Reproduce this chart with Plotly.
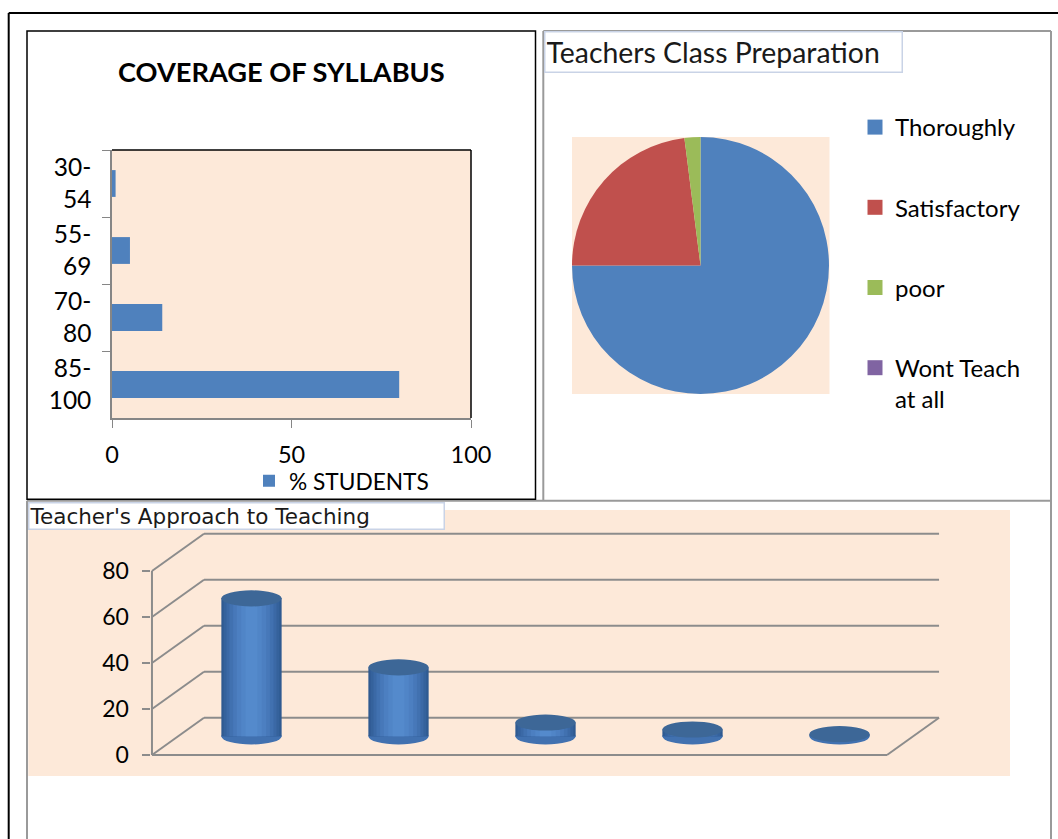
import plotly.graph_objects as go

# ---------------- data ----------------
syllabus_ranges = ["30-<br>54", "55-<br>69", "70-<br>80", "85-<br>100"]
pct_students = [1, 5, 14, 80]
syllabus_ticks = [0, 50, 100]

prep_labels = ["Thoroughly", "Satisfactory", "poor", "Wont Teach<br>at all"]
prep_values = [75, 23, 2, 0]
prep_colors = ["#4f81bd", "#c0504d", "#9bbb59", "#8064a2"]

approach_levels = ["1", "2", "3", "4", "5"]
approach_values = [60, 30, 6, 3, 1]
approach_ticks = [0, 20, 40, 60, 80]

# ---------------- helpers ----------------
W, H = 1058, 839
FONT = "Lato, 'Open Sans', sans-serif"
PEACH = "#fde9d9"
GRID = "#8c8c8c"


def X(px):
    return px / W


def Y(py):
    return 1 - py / H


fig = go.Figure()

# ---------------- chart 1: coverage of syllabus ----------------
fig.add_trace(go.Bar(
    x=pct_students, y=syllabus_ranges, orientation="h",
    marker=dict(color="#4f81bd", line=dict(width=0)),
    name="% STUDENTS", xaxis="x", yaxis="y", legend="legend",
))

# ---------------- chart 2: pie ----------------
fig.add_trace(go.Pie(
    labels=prep_labels, values=prep_values, sort=False,
    direction="clockwise", rotation=0,
    marker=dict(colors=prep_colors, line=dict(width=0)),
    textinfo="none", showlegend=False,
    domain=dict(x=[X(572), X(829)], y=[Y(394), Y(137)]),
))
for lab, col in zip(prep_labels, prep_colors):
    fig.add_trace(go.Scatter(
        x=[None], y=[None], mode="markers",
        marker=dict(symbol="square", size=15, color=col),
        name=lab, legend="legend2", legendgroup=lab,
        xaxis="x", yaxis="y", hoverinfo="skip",
    ))

# ---------------- chart 3: pseudo 3D cylinders ----------------
DX, DY = 0.354, 16.2   # depth offsets (category units, value units)
BW = 0.41
n = len(approach_levels)
xpos = [i + DX / 2 for i in range(n)]
base = DY / 2
for w, col in [(0.41, "#2f5a91"), (0.38, "#35629c"), (0.34, "#3b69a6"),
               (0.30, "#4171b0"), (0.25, "#4778b9"), (0.20, "#4c7fc1"),
               (0.14, "#5085c7"), (0.08, "#548acc")]:
    fig.add_trace(go.Bar(
        x=xpos, y=approach_values, base=[base] * n, width=w,
        marker=dict(color=col, line=dict(width=0)),
        customdata=approach_levels, hovertemplate="%{customdata}: %{y}<extra></extra>",
        xaxis="x2", yaxis="y2", showlegend=False,
    ))

shapes = []
# back wall gridlines + side diagonals
for v in approach_ticks:
    shapes.append(dict(type="line", xref="x2", yref="y2", layer="below",
                       x0=-0.5 + DX, x1=n - 0.5 + DX, y0=v + DY, y1=v + DY,
                       line=dict(color=GRID, width=2)))
    shapes.append(dict(type="line", xref="x2", yref="y2", layer="below",
                       x0=-0.5, x1=-0.5 + DX, y0=v, y1=v + DY,
                       line=dict(color=GRID, width=2)))
# floor
shapes.append(dict(type="line", xref="x2", yref="y2", layer="below",
                   x0=-0.5, x1=n - 0.5, y0=0, y1=0, line=dict(color=GRID, width=2)))
shapes.append(dict(type="line", xref="x2", yref="y2", layer="below",
                   x0=n - 0.5, x1=n - 0.5 + DX, y0=0, y1=DY, line=dict(color=GRID, width=2)))
# front value axis
shapes.append(dict(type="line", xref="x2", yref="y2", layer="below",
                   x0=-0.5, x1=-0.5, y0=0, y1=max(approach_ticks),
                   line=dict(color=GRID, width=2)))
EH = 3.5
for xc, v in zip(xpos, approach_values):
    shapes.append(dict(type="circle", xref="x2", yref="y2", layer="below",
                       x0=xc - BW / 2, x1=xc + BW / 2, y0=base - EH, y1=base + EH,
                       fillcolor="#4171b0", line=dict(width=0)))
for xc, v in zip(xpos, approach_values):
    shapes.append(dict(type="circle", xref="x2", yref="y2", layer="above",
                       x0=xc - BW / 2, x1=xc + BW / 2, y0=base + v - EH, y1=base + v + EH,
                       fillcolor="#3d6797", line=dict(width=0)))

# chart 1 top/right black border
shapes.append(dict(type="line", xref="x domain", yref="y domain", x0=0, x1=1, y0=1, y1=1,
                   line=dict(color="black", width=1.5)))
shapes.append(dict(type="line", xref="x domain", yref="y domain", x0=1, x1=1, y0=0, y1=1,
                   line=dict(color="black", width=1.5)))

# backgrounds (paper)
shapes.append(dict(type="rect", xref="paper", yref="paper", layer="below",
                   x0=X(572), x1=X(829.5), y0=Y(394), y1=Y(137),
                   fillcolor=PEACH, line=dict(width=0)))
shapes.append(dict(type="rect", xref="paper", yref="paper", layer="below",
                   x0=X(28.3), x1=X(1010), y0=Y(776), y1=Y(510),
                   fillcolor=PEACH, line=dict(width=0)))


# frames (paper)
def pline(x0, y0, x1, y1, color, width):
    shapes.append(dict(type="line", xref="paper", yref="paper",
                       x0=X(x0), y0=Y(y0), x1=X(x1), y1=Y(y1),
                       line=dict(color=color, width=width)))


pline(8.7, 13, 1058, 13, "black", 2)
pline(8.7, 13, 8.7, 839, "black", 2)
pline(543.3, 31, 1051, 31, "#9a9a9a", 2)
pline(543.3, 31, 543.3, 500, "#9a9a9a", 2)
pline(1051, 31, 1051, 839, "#9a9a9a", 2)
pline(27, 500.7, 1051, 500.7, "#9a9a9a", 2)
pline(27, 500.7, 27, 839, "#9a9a9a", 2)
shapes.append(dict(type="rect", xref="paper", yref="paper",
                   x0=X(27), y0=Y(499.3), x1=X(535.5), y1=Y(31),
                   line=dict(color="black", width=1.5)))

annotations = [
    dict(text="<b>COVERAGE OF SYLLABUS</b>", xref="paper", yref="paper",
         x=X(281), y=Y(71), xanchor="center", yanchor="middle", showarrow=False,
         font=dict(family=FONT, size=27.2, color="black")),
    dict(text="Teachers Class Preparation", xref="paper", yref="paper",
         x=X(543.5), y=Y(31), xanchor="left", yanchor="top", showarrow=False,
         width=354, height=37, align="left", valign="middle",
         bordercolor="#c9d3e6", borderwidth=1.5, borderpad=1, bgcolor="white",
         font=dict(family=FONT, size=28.4, color="#1a1a1a")),
    dict(text="Teacher's Approach to Teaching", xref="paper", yref="paper",
         x=X(28), y=Y(501.5), xanchor="left", yanchor="top", showarrow=False,
         width=414, height=25, align="left", valign="middle",
         bordercolor="#c9d3e6", borderwidth=1.5, borderpad=0, bgcolor="white",
         font=dict(family="'DejaVu Sans', sans-serif", size=21.5, color="#1a1a1a")),
]

fig.update_layout(
    width=W, height=H, autosize=False,
    margin=dict(l=0, r=0, t=0, b=0, pad=0, autoexpand=False),
    paper_bgcolor="white", plot_bgcolor=PEACH,
    barmode="overlay", bargap=0.6,
    font=dict(family=FONT, size=22, color="black"),
    xaxis=dict(domain=[X(112), X(471)], range=[0, 100], tickvals=syllabus_ticks,
               showgrid=False, zeroline=False, showline=True, linecolor="#868686",
               linewidth=1.5, ticks="outside", ticklen=8, tickcolor="#868686",
               ticklabelstandoff=7, tickfont=dict(size=23.5), fixedrange=True,
               automargin=False),
    yaxis=dict(domain=[Y(418), Y(150)], autorange="reversed", type="category",
               categoryarray=syllabus_ranges, tickson="boundaries",
               showgrid=False, zeroline=False, showline=True, linecolor="#868686",
               linewidth=1.5, ticks="outside", ticklen=8, tickcolor="#868686",
               ticklabelstandoff=14, tickfont=dict(size=24.5), fixedrange=True,
               automargin=False),
    xaxis2=dict(domain=[X(150.5), X(941.4)], range=[-0.51, 4.87], anchor="y2",
                visible=False, fixedrange=True, automargin=False),
    yaxis2=dict(domain=[Y(758.45), Y(528.45)], range=[-1.5, 98.5], anchor="x2",
                tickvals=approach_ticks, showgrid=False, zeroline=False, showline=False,
                ticks="outside", ticklen=8, tickcolor=GRID, tickwidth=2,
                ticklabelstandoff=8, tickfont=dict(size=23), fixedrange=True,
                automargin=False),
    legend=dict(x=X(249), y=Y(481), xanchor="left", yanchor="middle",
                bgcolor="rgba(0,0,0,0)", font=dict(size=22.7), orientation="h"),
    legend2=dict(x=X(855), y=Y(105), xanchor="left", yanchor="top",
                 bgcolor="rgba(0,0,0,0)", font=dict(size=24), traceorder="grouped",
                 tracegroupgap=46, valign="top"),
    shapes=shapes, annotations=annotations,
)

fig.write_html(
    "out.html",
    config={"displayModeBar": False},
    post_script="document.body.style.margin='0';document.body.style.overflow='hidden';",
)
